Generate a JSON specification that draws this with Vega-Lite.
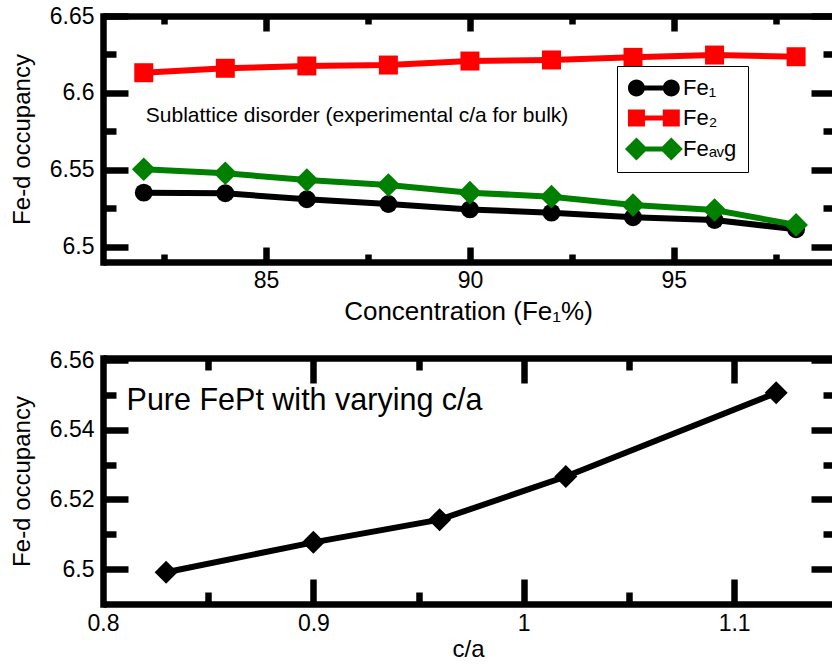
{
  "$schema": "https://vega.github.io/schema/vega-lite/v6.json",
  "padding": {"left": 10, "top": 5, "right": 0, "bottom": 0},
  "config": {
    "font": "Liberation Sans",
    "view": {"stroke": null},
    "axis": {"grid": false, "domainColor": "black", "tickColor": "black", "labelColor": "black", "titleColor": "black", "labelFont": "Liberation Sans", "titleFont": "Liberation Sans", "titleFontWeight": "normal", "labelFlush": false, "labelOverlap": false},
    "concat": {"spacing": 25}
  },
  "datasets": {
    "top": [
      {"conc": 82, "series": "Fe1", "occ": 6.5351}, {"conc": 84, "series": "Fe1", "occ": 6.5347}, {"conc": 86, "series": "Fe1", "occ": 6.5308},
      {"conc": 88, "series": "Fe1", "occ": 6.5277}, {"conc": 90, "series": "Fe1", "occ": 6.5242}, {"conc": 92, "series": "Fe1", "occ": 6.5221},
      {"conc": 94, "series": "Fe1", "occ": 6.5191}, {"conc": 96, "series": "Fe1", "occ": 6.5173}, {"conc": 98, "series": "Fe1", "occ": 6.5113},
      {"conc": 82, "series": "Fe2", "occ": 6.6131}, {"conc": 84, "series": "Fe2", "occ": 6.616}, {"conc": 86, "series": "Fe2", "occ": 6.6175},
      {"conc": 88, "series": "Fe2", "occ": 6.6181}, {"conc": 90, "series": "Fe2", "occ": 6.6207}, {"conc": 92, "series": "Fe2", "occ": 6.6214},
      {"conc": 94, "series": "Fe2", "occ": 6.6231}, {"conc": 96, "series": "Fe2", "occ": 6.6246}, {"conc": 98, "series": "Fe2", "occ": 6.6235},
      {"conc": 82, "series": "Feavg", "occ": 6.5503}, {"conc": 84, "series": "Feavg", "occ": 6.5477}, {"conc": 86, "series": "Feavg", "occ": 6.5433},
      {"conc": 88, "series": "Feavg", "occ": 6.5401}, {"conc": 90, "series": "Feavg", "occ": 6.5351}, {"conc": 92, "series": "Feavg", "occ": 6.5325},
      {"conc": 94, "series": "Feavg", "occ": 6.5271}, {"conc": 96, "series": "Feavg", "occ": 6.5238}, {"conc": 98, "series": "Feavg", "occ": 6.5141}
    ],
    "bottom": [
      {"ca": 0.83, "occ": 6.4991}, {"ca": 0.9, "occ": 6.5077}, {"ca": 0.96, "occ": 6.5142}, {"ca": 1.02, "occ": 6.5266}, {"ca": 1.12, "occ": 6.5506}
    ]
  },
  "vconcat": [
    {
      "width": 730, "height": 246,
      "data": {"name": "top"},
      "resolve": {"axis": {"x": "independent", "y": "independent"}},
      "layer": [
        {
          "transform": [{"filter": "datum.series == 'Fe1'"}],
          "mark": {"type": "line", "strokeWidth": 6, "color": "#000000"},
          "encoding": {
            "x": {"field": "conc", "type": "quantitative", "scale": {"domain": [81, 98.905], "nice": false, "zero": false},
              "axis": {"orient": "bottom", "values": [85, 90, 95], "format": "~g", "ticks": false, "domain": true, "domainWidth": 6.5, "domainCap": "butt", "labelFontSize": 23, "labelPadding": 7, "title": "Concentration (Fe₁%)", "titleFontSize": 26, "titlePadding": 6}},
            "y": {"field": "occ", "type": "quantitative", "scale": {"domain": [6.49, 6.65], "nice": false, "zero": false},
              "axis": {"orient": "left", "values": [6.5, 6.55, 6.6, 6.65], "format": "~g", "ticks": false, "domain": true, "domainWidth": 6.5, "domainCap": "square", "labelFontSize": 23, "labelPadding": 9, "title": "Fe-d occupancy", "titleFontSize": 24, "titlePadding": 15}}
          }
        },
        {
          "transform": [{"filter": "datum.series == 'Fe2'"}],
          "mark": {"type": "line", "strokeWidth": 6, "color": "#ff0000"},
          "encoding": {
            "x": {"field": "conc", "type": "quantitative", "scale": {"domain": [81, 98.905], "nice": false, "zero": false},
              "axis": {"orient": "bottom", "values": [85, 90, 95], "labels": false, "domain": false, "tickSize": -15, "tickWidth": 6.5, "title": null}},
            "y": {"field": "occ", "type": "quantitative", "scale": {"domain": [6.49, 6.65], "nice": false, "zero": false},
              "axis": {"orient": "left", "values": [6.5, 6.55, 6.6, 6.65], "labels": false, "domain": false, "tickSize": -25, "tickWidth": 6.5, "title": null}}
          }
        },
        {
          "transform": [{"filter": "datum.series == 'Feavg'"}],
          "mark": {"type": "line", "strokeWidth": 6, "color": "#008000"},
          "encoding": {
            "x": {"field": "conc", "type": "quantitative", "scale": {"domain": [81, 98.905], "nice": false, "zero": false},
              "axis": {"orient": "bottom", "values": [82.5, 87.5, 92.5, 97.5], "labels": false, "domain": false, "tickSize": -8, "tickWidth": 6.5, "title": null}},
            "y": {"field": "occ", "type": "quantitative", "scale": {"domain": [6.49, 6.65], "nice": false, "zero": false},
              "axis": {"orient": "left", "values": [6.525, 6.575, 6.625], "labels": false, "domain": false, "tickSize": -13, "tickWidth": 6.5, "title": null}}
          }
        },
        {
          "transform": [{"filter": "datum.series == 'Fe1'"}],
          "mark": {"type": "point", "shape": "circle", "filled": true, "opacity": 1, "size": 320, "color": "#000000"},
          "encoding": {
            "x": {"field": "conc", "type": "quantitative", "scale": {"domain": [81, 98.905], "nice": false, "zero": false},
              "axis": {"orient": "top", "values": [85, 90, 95], "labels": false, "domain": true, "domainWidth": 6.5, "domainCap": "butt", "tickSize": -15, "tickWidth": 6.5, "title": null}},
            "y": {"field": "occ", "type": "quantitative", "scale": {"domain": [6.49, 6.65], "nice": false, "zero": false},
              "axis": {"orient": "right", "values": [6.5, 6.55, 6.6, 6.65], "labels": false, "domain": false, "tickSize": -22, "tickWidth": 6.5, "title": null}}
          }
        },
        {
          "transform": [{"filter": "datum.series == 'Fe2'"}],
          "mark": {"type": "point", "shape": "square", "filled": true, "opacity": 1, "size": 361, "color": "#ff0000"},
          "encoding": {
            "x": {"field": "conc", "type": "quantitative", "scale": {"domain": [81, 98.905], "nice": false, "zero": false},
              "axis": {"orient": "top", "values": [82.5, 87.5, 92.5, 97.5], "labels": false, "domain": false, "tickSize": -8, "tickWidth": 6.5, "title": null}},
            "y": {"field": "occ", "type": "quantitative", "scale": {"domain": [6.49, 6.65], "nice": false, "zero": false},
              "axis": {"orient": "right", "values": [6.525, 6.575, 6.625], "labels": false, "domain": false, "tickSize": -10, "tickWidth": 6.5, "title": null}}
          }
        },
        {
          "transform": [{"filter": "datum.series == 'Feavg'"}],
          "mark": {"type": "point", "shape": "diamond", "filled": true, "opacity": 1, "size": 560, "color": "#008000"},
          "encoding": {
            "x": {"field": "conc", "type": "quantitative", "scale": {"domain": [81, 98.905], "nice": false, "zero": false}, "axis": null},
            "y": {"field": "occ", "type": "quantitative", "scale": {"domain": [6.49, 6.65], "nice": false, "zero": false}, "axis": null}
          }
        },
        {
          "data": {"values": [{}]},
          "mark": {"type": "text", "align": "left", "baseline": "alphabetic", "fontSize": 21, "font": "Liberation Sans", "color": "black"},
          "encoding": {
            "x": {"datum": 82.05, "type": "quantitative", "scale": {"domain": [81, 98.905], "nice": false, "zero": false}, "axis": null},
            "y": {"datum": 6.5811, "type": "quantitative", "scale": {"domain": [6.49, 6.65], "nice": false, "zero": false}, "axis": null},
            "text": {"value": "Sublattice disorder (experimental c/a for bulk)"}
          }
        },
        {
          "transform": [{"filter": "datum.series == 'none'"}],
          "mark": {"type": "point", "filled": true, "opacity": 1, "strokeWidth": 0},
          "encoding": {
            "x": {"field": "conc", "type": "quantitative", "scale": {"domain": [81, 98.905], "nice": false, "zero": false}, "axis": null},
            "y": {"field": "occ", "type": "quantitative", "scale": {"domain": [6.49, 6.65], "nice": false, "zero": false}, "axis": null},
            "color": {"field": "series", "type": "nominal",
              "scale": {"domain": ["Fe1", "Fe2", "Feavg"], "range": ["#000000", "#ff0000", "#008000"]},
              "legend": {"orient": "none", "legendX": 514, "legendY": 50, "title": null, "labelExpr": "datum.value == 'Fe1' ? 'Fe₁' : datum.value == 'Fe2' ? 'Fe₂' : 'Feₐᵥg'", "labelFontSize": 22, "labelFont": "Liberation Sans", "labelColor": "black", "symbolSize": 289, "symbolStrokeWidth": 0, "labelOffset": 33, "padding": 11, "rowPadding": 8, "strokeColor": "black", "fillColor": "white", "encode": {"legend": {"update": {"strokeWidth": {"value": 2.5}}}}}},
            "shape": {"field": "series", "type": "nominal",
              "scale": {"domain": ["Fe1", "Fe2", "Feavg"], "range": [
                "M -1.3 0 A 1 1 0 1 1 0.7 0 A 1 1 0 1 1 -1.3 0 Z M 2.8 0 A 1 1 0 1 1 4.8 0 A 1 1 0 1 1 2.8 0 Z M -0.3 -0.3 L 3.8 -0.3 L 3.8 0.3 L -0.3 0.3 Z",
                "M -1.3 -1 L 0.7 -1 L 0.7 1 L -1.3 1 Z M 2.8 -1 L 4.8 -1 L 4.8 1 L 2.8 1 Z M 0.7 -0.3 L 2.8 -0.3 L 2.8 0.3 L 0.7 0.3 Z",
                "M -1.65 0 L -0.3 -1.35 L 1.05 0 L -0.3 1.35 Z M 2.45 0 L 3.8 -1.35 L 5.15 0 L 3.8 1.35 Z M 0.7 -0.3 L 2.8 -0.3 L 2.8 0.3 L 0.7 0.3 Z"
              ]},
              "legend": {"orient": "none", "legendX": 514, "legendY": 50, "title": null, "labelExpr": "datum.value == 'Fe1' ? 'Fe₁' : datum.value == 'Fe2' ? 'Fe₂' : 'Feₐᵥg'", "labelFontSize": 22, "labelFont": "Liberation Sans", "labelColor": "black", "symbolSize": 289, "symbolStrokeWidth": 0, "labelOffset": 33, "padding": 11, "rowPadding": 8, "strokeColor": "black", "fillColor": "white", "encode": {"legend": {"update": {"strokeWidth": {"value": 2.5}}}}}}
          }
        }
      ]
    },
    {
      "width": 730, "height": 246,
      "data": {"name": "bottom"},
      "resolve": {"axis": {"x": "independent", "y": "independent"}},
      "layer": [
        {
          "mark": {"type": "line", "strokeWidth": 6, "color": "black"},
          "encoding": {
            "x": {"field": "ca", "type": "quantitative", "scale": {"domain": [0.8, 1.147], "nice": false, "zero": false},
              "axis": {"orient": "bottom", "values": [0.8, 0.9, 1, 1.1], "format": "~g", "ticks": false, "domain": true, "domainWidth": 6.5, "domainCap": "butt", "labelFontSize": 23, "labelPadding": 8, "title": "c/a", "titleFontSize": 24, "titlePadding": 2.5}},
            "y": {"field": "occ", "type": "quantitative", "scale": {"domain": [6.49, 6.5606], "nice": false, "zero": false},
              "axis": {"orient": "left", "values": [6.5, 6.52, 6.54, 6.56], "format": "~g", "ticks": false, "domain": true, "domainWidth": 6.5, "domainCap": "square", "labelFontSize": 23, "labelPadding": 9, "title": "Fe-d occupancy", "titleFontSize": 24, "titlePadding": 15}}
          }
        },
        {
          "mark": {"type": "point", "shape": "diamond", "filled": true, "opacity": 1, "size": 530, "color": "black"},
          "encoding": {
            "x": {"field": "ca", "type": "quantitative", "scale": {"domain": [0.8, 1.147], "nice": false, "zero": false},
              "axis": {"orient": "bottom", "values": [0.9, 1, 1.1], "labels": false, "domain": false, "tickSize": -25, "tickWidth": 6.5, "title": null}},
            "y": {"field": "occ", "type": "quantitative", "scale": {"domain": [6.49, 6.5606], "nice": false, "zero": false},
              "axis": {"orient": "left", "values": [6.5, 6.52, 6.54, 6.56], "labels": false, "domain": false, "tickSize": -25, "tickWidth": 6.5, "title": null}}
          }
        },
        {
          "data": {"values": [{}]},
          "mark": {"type": "text", "align": "left", "baseline": "alphabetic", "fontSize": 30.5, "font": "Liberation Sans", "color": "black"},
          "encoding": {
            "x": {"datum": 0.8112, "type": "quantitative", "scale": {"domain": [0.8, 1.147], "nice": false, "zero": false},
              "axis": {"orient": "bottom", "values": [0.85, 0.95, 1.05], "labels": false, "domain": false, "tickSize": -12, "tickWidth": 6.5, "title": null}},
            "y": {"datum": 6.5457, "type": "quantitative", "scale": {"domain": [6.49, 6.5606], "nice": false, "zero": false},
              "axis": {"orient": "left", "values": [6.51, 6.53, 6.55], "labels": false, "domain": false, "tickSize": -13, "tickWidth": 6.5, "title": null}},
            "text": {"value": "Pure FePt with varying c/a"}
          }
        },
        {
          "mark": {"type": "point", "opacity": 0},
          "encoding": {
            "x": {"field": "ca", "type": "quantitative", "scale": {"domain": [0.8, 1.147], "nice": false, "zero": false},
              "axis": {"orient": "top", "values": [0.9, 1, 1.1], "labels": false, "domain": true, "domainWidth": 6.5, "domainCap": "butt", "tickSize": -25, "tickWidth": 6.5, "title": null}},
            "y": {"field": "occ", "type": "quantitative", "scale": {"domain": [6.49, 6.5606], "nice": false, "zero": false},
              "axis": {"orient": "right", "values": [6.5, 6.52, 6.54, 6.56], "labels": false, "domain": false, "tickSize": -22, "tickWidth": 6.5, "title": null}}
          }
        },
        {
          "mark": {"type": "point", "opacity": 0},
          "encoding": {
            "x": {"field": "ca", "type": "quantitative", "scale": {"domain": [0.8, 1.147], "nice": false, "zero": false},
              "axis": {"orient": "top", "values": [0.85, 0.95, 1.05], "labels": false, "domain": false, "tickSize": -12, "tickWidth": 6.5, "title": null}},
            "y": {"field": "occ", "type": "quantitative", "scale": {"domain": [6.49, 6.5606], "nice": false, "zero": false},
              "axis": {"orient": "right", "values": [6.51, 6.53, 6.55], "labels": false, "domain": false, "tickSize": -10, "tickWidth": 6.5, "title": null}}
          }
        }
      ]
    }
  ]
}
